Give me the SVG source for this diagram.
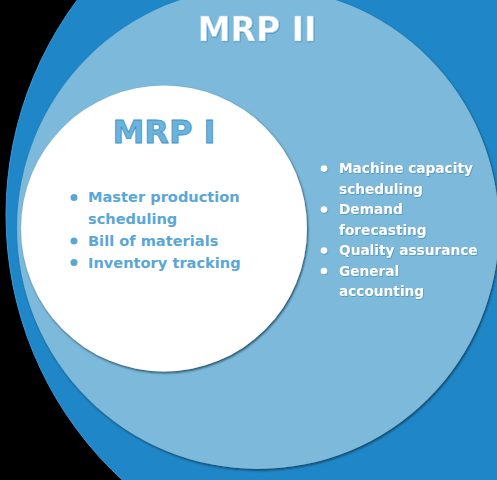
<svg xmlns="http://www.w3.org/2000/svg" width="497" height="480" viewBox="0 0 497 480">
  <defs>
    <filter id="shadow" x="-10%" y="-10%" width="120%" height="120%">
      <feDropShadow dx="1" dy="1.5" stdDeviation="0.8" flood-color="#0b3550" flood-opacity="0.85"/>
    </filter>
    <filter id="txtShadow" x="-10%" y="-20%" width="120%" height="140%">
      <feDropShadow dx="0.6" dy="0.8" stdDeviation="0.6" flood-color="#3f86b3" flood-opacity="0.8"/>
    </filter>
  </defs>
  <style>
    .t { font-family: "DejaVu Sans", Verdana, sans-serif; font-weight: bold; }
    .title2 { font-size: 33px; fill: #ffffff; stroke: #9fd0ec; stroke-width: 0.6; }
    .title1 { font-size: 32px; fill: #6bb2dc; stroke: #3f93c6; stroke-width: 0.8; }
    .inner { font-size: 14.6px; fill: #5aa7d6; }
    .outer { font-size: 13.7px; fill: #ffffff; }
    .dotIn { fill: #5aa7d6; }
    .dotOut { fill: #ffffff; }
  </style>
  <rect x="0" y="0" width="497" height="480" fill="#000000"/>

  <g id="outer-ring">
    <circle cx="366" cy="215" r="360" fill="#1f87c7" stroke="#3a9ad6" stroke-width="1"/>
  </g>

  <g id="mrp2">
    <circle cx="258" cy="228" r="241" fill="#7bb9da" filter="url(#shadow)"/>
    <text class="t title2" x="257" y="41" text-anchor="middle" filter="url(#txtShadow)">MRP II</text>
    <g filter="url(#txtShadow)">
      <circle class="dotOut" cx="324" cy="168.5" r="3.3"/>
      <circle class="dotOut" cx="324" cy="209.5" r="3.3"/>
      <circle class="dotOut" cx="324" cy="250.5" r="3.3"/>
      <circle class="dotOut" cx="324" cy="271" r="3.3"/>
      <text class="t outer" x="339" y="173">Machine capacity</text>
      <text class="t outer" x="339" y="193.5">scheduling</text>
      <text class="t outer" x="339" y="214">Demand</text>
      <text class="t outer" x="339" y="234.5">forecasting</text>
      <text class="t outer" x="339" y="255">Quality assurance</text>
      <text class="t outer" x="339" y="275.5">General</text>
      <text class="t outer" x="339" y="296">accounting</text>
    </g>
  </g>

  <g id="mrp1">
    <circle cx="164" cy="228.5" r="143" fill="#ffffff" filter="url(#shadow)"/>
    <text class="t title1" x="164" y="143" text-anchor="middle">MRP I</text>
    <circle class="dotIn" cx="74" cy="197.5" r="3.5"/>
    <circle class="dotIn" cx="74" cy="241" r="3.5"/>
    <circle class="dotIn" cx="74" cy="262.5" r="3.5"/>
    <text class="t inner" x="88" y="202.3">Master production</text>
    <text class="t inner" x="88" y="223.5">scheduling</text>
    <text class="t inner" x="88" y="246">Bill of materials</text>
    <text class="t inner" x="88" y="267.5">Inventory tracking</text>
  </g>
</svg>
